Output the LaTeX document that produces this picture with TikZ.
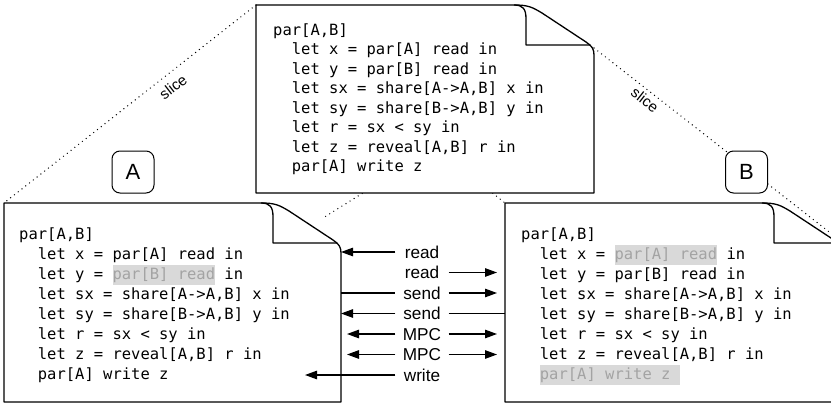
\documentclass[tikz,border=0pt]{standalone}
\usepackage{fontspec}
\setmainfont{Liberation Sans}
\setmonofont{DejaVu Sans Mono}
\usetikzlibrary{arrows.meta}
\definecolor{hlbg}{HTML}{D9D9D9}
\definecolor{hlfg}{HTML}{A3A3A3}
\newcommand{\hl}[1]{{\setlength{\fboxsep}{0pt}\colorbox{hlbg}{\strut\textcolor{hlfg}{#1}}}}
\newcommand{\codeind}[1]{\strut\phantom{xx}#1}
\newcommand{\drawdoc}[4]{%
  \draw[docline, fill=white] (#1,#2) -- ({#3-80},#2)
    .. controls ({#3-66},#2) and ({#3-62},{#2+2}) .. ({#3-52},{#2+8})
    -- ({#3-8},{#2+37})
    .. controls ({#3-2},{#2+41}) and (#3,{#2+44}) .. (#3,{#2+50})
    -- (#3,#4) -- (#1,#4) -- cycle;
  \draw[docline] ({#3-80},#2)
    .. controls ({#3-71},#2) and ({#3-68},{#2+4}) .. ({#3-68},{#2+14})
    -- ({#3-68},{#2+40}) -- ({#3-4},{#2+40});
}
\begin{document}
\begin{tikzpicture}[x=1pt,y=-1pt,
  docline/.style={line width=1.3pt, line join=round},
  slice/.style={line width=1.4pt, line cap=round, dash pattern=on 0pt off 4.8pt},
  code/.style={font=\fontsize{15.5}{20}\selectfont\ttfamily, align=left, inner sep=0pt},
  topcode/.style={font=\fontsize{15.5}{19.45}\selectfont\ttfamily, align=left, inner sep=0pt},
  party/.style={draw, line width=1pt, rounded corners=8pt, fill=white, minimum width=42pt, minimum height=42pt, inner sep=0pt, font=\fontsize{22}{26}\selectfont},
  lbl/.style={font=\fontsize{17.2}{20}\selectfont, minimum width=53pt, inner sep=0pt, text height=12.4pt, text depth=0pt},
  slicelbl/.style={font=\fontsize{15}{18}\selectfont, inner sep=0pt},
  arr/.style={line width=1.2pt, -{Triangle[length=12pt,width=8.5pt]}},
  plain/.style={line width=1.2pt}]
\useasboundingbox (0,0) rectangle (831,404);
\clip (0,0) rectangle (831,404);
% anchor coordinates
\coordinate (tTL) at (256,5);
\coordinate (tFC) at (594,48);
\coordinate (lTL) at (4,203);
\coordinate (rTL) at (505,203);
\coordinate (lEnd) at (323,218);
\coordinate (rEnd) at (842,242);
\coordinate (lEdge) at (341,0);
\coordinate (rEdge) at (505,0);
\coordinate (wEnd) at (305,0);
% slice lines
\draw[slice] (tTL) -- (lTL);
\draw[slice] (tFC) -- (lEnd);
\draw[slice] (tTL) -- (rTL);
\draw[slice] (tFC) -- (rEnd);
\node[slicelbl, rotate=37.6] (sliceA) at (173,87) {slice};
\node[slicelbl, rotate=-38] (sliceB) at (645,100) {slice};
% documents
\drawdoc{4}{203}{341}{402}
\drawdoc{505}{203}{842}{402}
\drawdoc{256}{5}{594}{193}
% parties
\node[party] (A) at (133,172) {A};
\node[party] (B) at (746.5,172) {B};
% code
\node[topcode, anchor=north west] (tcode) at (273,21.7) {\strut par[A,B]\\
\codeind{let x = par[A] read in}\\
\codeind{let y = par[B] read in}\\
\codeind{let sx = share[A->A,B] x in}\\
\codeind{let sy = share[B->A,B] y in}\\
\codeind{let r = sx < sy in}\\
\codeind{let z = reveal[A,B] r in}\\
\codeind{par[A] write z}};
\node[code, anchor=north west] (lcode) at (19,225) {\strut par[A,B]\\
\codeind{let x = par[A] read in}\\
\codeind{let y = \hl{par[B] read} in}\\
\codeind{let sx = share[A->A,B] x in}\\
\codeind{let sy = share[B->A,B] y in}\\
\codeind{let r = sx < sy in}\\
\codeind{let z = reveal[A,B] r in}\\
\codeind{par[A] write z}};
\node[code, anchor=north west] (rcode) at (521,225) {\strut par[A,B]\\
\codeind{let x = \hl{par[A] read} in}\\
\codeind{let y = par[B] read in}\\
\codeind{let sx = share[A->A,B] x in}\\
\codeind{let sy = share[B->A,B] y in}\\
\codeind{let r = sx < sy in}\\
\codeind{let z = reveal[A,B] r in}\\
\codeind{\hl{par[A] write z\ }}};
% message labels
\node[lbl] (m1) at (422,252) {read};
\node[lbl] (m2) at (422,272.5) {read};
\node[lbl] (m3) at (422,293) {send};
\node[lbl] (m4) at (422,313.5) {send};
\node[lbl] (m5) at (422,334) {MPC};
\node[lbl] (m6) at (422,354.5) {MPC};
\node[lbl] (m7) at (422,375) {write};
% connectors
\draw[arr] (m1.west) -- (m1.west -| lEdge);
\draw[arr, shorten >=8pt] (m2.east) -- (m2.east -| rEdge);
\draw[plain] (m3.west -| lEdge) -- (m3.west);
\draw[arr, shorten >=8pt] (m3.east) -- (m3.east -| rEdge);
\draw[arr] (m4.west) -- (m4.west -| lEdge);
\draw[plain] (m4.east) -- (m4.east -| rEdge);
\draw[arr, shorten >=6pt] (m5.west) -- (m5.west -| lEdge);
\draw[arr, shorten >=8pt] (m5.east) -- (m5.east -| rEdge);
\draw[arr, shorten >=6pt] (m6.west) -- (m6.west -| lEdge);
\draw[arr, shorten >=8pt] (m6.east) -- (m6.east -| rEdge);
\draw[arr] (m7.west) -- (m7.west -| wEnd);
\end{tikzpicture}
\end{document}
